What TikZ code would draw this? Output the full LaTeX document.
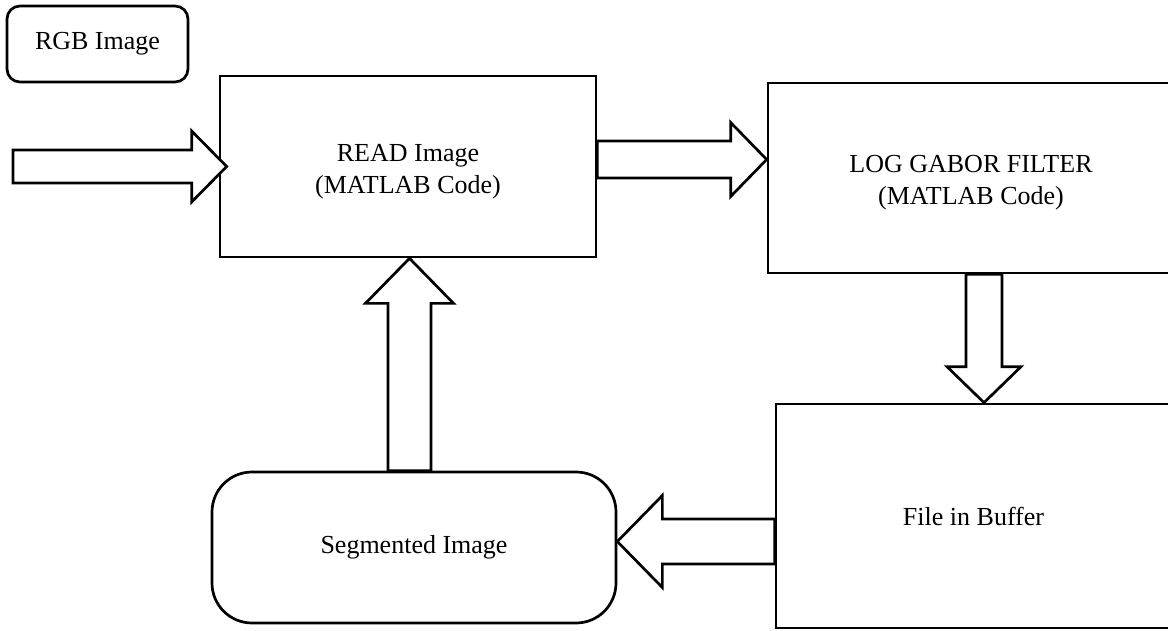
\documentclass[tikz,border=0pt]{standalone}
\usepackage{fontspec}
\setmainfont{Liberation Serif}
\usetikzlibrary{calc}

% hollow block arrow: #1 start, #2 tip, #3 shaft half width, #4 head half width, #5 head length
\newcommand{\hollowarrow}[5]{%
  \coordinate (hb) at ($(#2)!#5!(#1)$);
  \draw[blockarrow]
    ($(#1)!#3!90:(#2)$) -- ($(hb)!#3!90:(#2)$) -- ($(hb)!#4!90:(#2)$) -- (#2)
    -- ($(hb)!#4!-90:(#2)$) -- ($(hb)!#3!-90:(#2)$) -- ($(#1)!#3!-90:(#2)$) -- cycle;
}

\tikzset{
  stage/.style={draw, line width=2.7pt, fill=white, align=center, inner sep=0pt,
                font=\fontsize{26}{32}\selectfont},
  roundstage/.style={stage, rounded corners=#1},
  blockarrow/.style={draw, line width=2.7pt, fill=white, line join=miter}
}

\begin{document}
\begin{tikzpicture}[x=1pt, y=-1pt]
  \useasboundingbox (0,0) rectangle (1168,630);
  \clip (0,0) rectangle (1168,630);

  % process blocks
  \node[roundstage=13pt, minimum width=181pt, minimum height=76pt] (rgb) at (97.5,44) {RGB Image};
  \node[stage, minimum width=376pt, minimum height=181pt] (read) at (408,166.5) {\rule{0pt}{27pt}READ Image\\(MATLAB Code)};
  \node[stage, minimum width=406pt, minimum height=190pt] (log) at (971,178) {\rule{0pt}{27pt}LOG GABOR FILTER\\(MATLAB Code)};
  \node[stage, minimum width=395pt, minimum height=224pt] (buf) at (973.5,516) {File in Buffer};
  \node[roundstage=40pt, minimum width=404pt, minimum height=151pt] (seg) at (414,547.5) {Segmented Image};

  % arrow end points
  \coordinate (inS) at (13,166.5);
  \coordinate (inT) at ($(read.west)+(8,0)$);
  \coordinate (rlS) at (read.east |- 0,159.5);
  \coordinate (rlT) at (log.west |- 0,159.5);
  \coordinate (lbS) at (log.south -| 984,0);
  \coordinate (lbT) at (buf.north -| 984,0);
  \coordinate (bsS) at (buf.west |- 0,541.5);
  \coordinate (bsT) at (seg.east |- 0,541.5);
  \coordinate (srS) at (seg.north -| 409.5,0);
  \coordinate (srT) at (read.south -| 409.5,0);

  % hollow block arrows
  \hollowarrow{inS}{inT}{16.5pt}{35.5pt}{35pt}
  \hollowarrow{rlS}{rlT}{18.5pt}{37pt}{36pt}
  \hollowarrow{lbS}{lbT}{18pt}{37pt}{36pt}
  \hollowarrow{bsS}{bsT}{22.5pt}{46pt}{45pt}
  \hollowarrow{srS}{srT}{21.5pt}{44pt}{45pt}
\end{tikzpicture}
\end{document}
